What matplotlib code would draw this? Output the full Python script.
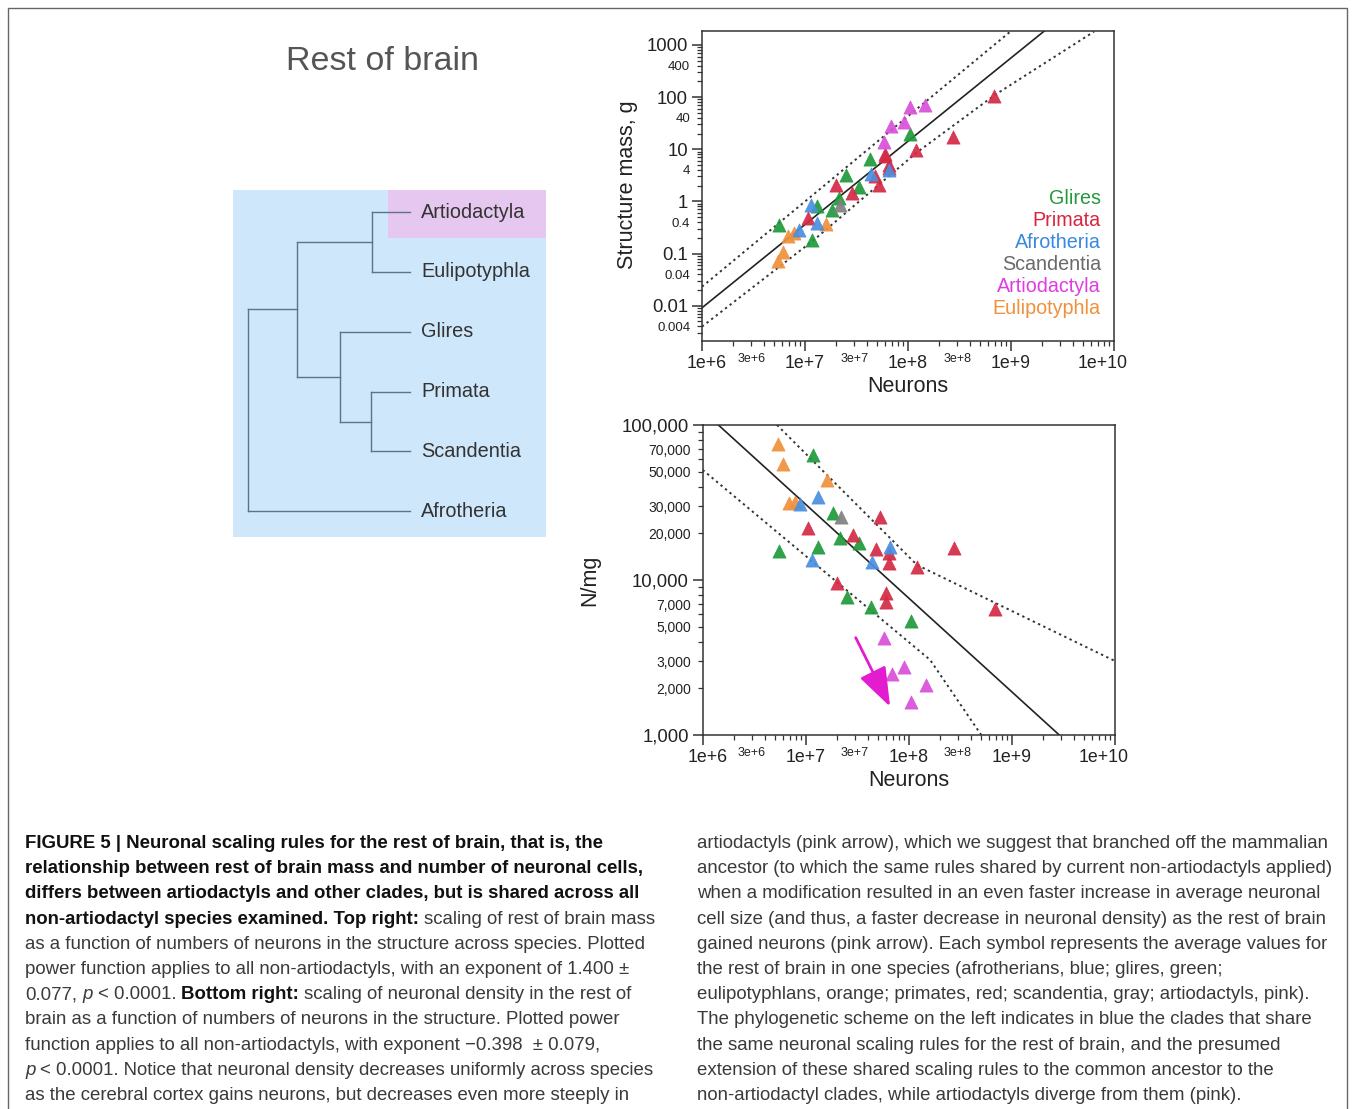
import numpy as np
import matplotlib
matplotlib.use("Agg")
import matplotlib.pyplot as plt
import matplotlib.transforms as mtransforms
from matplotlib import font_manager
from matplotlib.ticker import LogLocator, FixedLocator, FuncFormatter
from matplotlib.patches import Rectangle

W, H = 1355, 1109

# rest of brain: neurons and neuronal density (neurons/mg)
clades = ["Glires", "Primata", "Afrotheria", "Scandentia", "Artiodactyla", "Eulipotyphla"]
colors = {"Glires": "#1f9a3a", "Primata": "#d42a45", "Afrotheria": "#4a8fe0",
          "Scandentia": "#808080", "Artiodactyla": "#d94fd9", "Eulipotyphla": "#f0913c"}
legend_colors = {"Glires": "#239a3c", "Primata": "#d9253f", "Afrotheria": "#3a88e0",
                 "Scandentia": "#6a6a6a", "Artiodactyla": "#e03ce0", "Eulipotyphla": "#f0903a"}

glires_neurons = [1.17e7, 1.83e7, 2.15e7, 3.31e7, 1.30e7, 5.55e6, 2.52e7, 4.28e7, 1.045e8]
glires_density = [64000, 27200, 18800, 17400, 16250, 15450, 7760, 6700, 5430]
primata_neurons = [5.26e7, 1.06e7, 2.86e7, 4.82e7, 6.49e7, 6.49e7, 1.20e8, 2.75e8, 2.0e7, 5.98e7, 5.98e7, 6.78e8]
primata_density = [25350, 21700, 19400, 15800, 14860, 12940, 12190, 16030, 9530, 8200, 7240, 6470]
afrotheria_neurons = [1.32e7, 8.81e6, 6.58e7, 4.38e7, 1.14e7]
afrotheria_density = [34400, 30900, 16400, 13100, 13460]
scandentia_neurons = [2.19e7]
scandentia_density = [25350]
artiodactyla_neurons = [5.79e7, 9.06e7, 6.84e7, 1.47e8, 1.045e8]
artiodactyla_density = [4210, 2760, 2470, 2100, 1625]
eulipotyphla_neurons = [5.42e6, 6.07e6, 1.60e7, 6.81e6, 7.87e6]
eulipotyphla_density = [75300, 56000, 44200, 31400, 32000]

data = {
    "Glires": (glires_neurons, glires_density),
    "Primata": (primata_neurons, primata_density),
    "Afrotheria": (afrotheria_neurons, afrotheria_density),
    "Scandentia": (scandentia_neurons, scandentia_density),
    "Artiodactyla": (artiodactyla_neurons, artiodactyla_density),
    "Eulipotyphla": (eulipotyphla_neurons, eulipotyphla_density),
}
draw_order = ["Eulipotyphla", "Glires", "Primata", "Afrotheria", "Scandentia", "Artiodactyla"]

# fitted power function and bands as drawn (top: mass in g, bottom: N/mg)
top_fit_neurons = [1e6, 2.17e9]
top_fit_mass = [0.0091, 1940]
top_upper_neurons = [1e6, 1.03e9]
top_upper_mass = [0.0231, 1940]
top_lower_neurons = [1e6, 1.22e7, 1.21e8, 6.98e8, 6.40e9]
top_lower_mass = [0.00396, 0.182, 8.59, 110, 1800]

bot_fit_neurons = [1.42e6, 2.88e9]
bot_fit_density = [100000, 1000]
bot_upper_neurons = [5.26e6, 1.20e8, 1.0e10]
bot_upper_density = [100000, 12500, 3000]
bot_lower_neurons = [1e6, 1.61e8, 5.04e8]
bot_lower_density = [51300, 3050, 1000]

arrow_tail = (3.05e7, 4250)
arrow_head = (6.58e7, 1524)

# phylogeny (x = branch depth, leaves in drawing order)
leaves = ["Artiodactyla", "Eulipotyphla", "Glires", "Primata", "Scandentia", "Afrotheria"]
nodes = {
    "root": (0.0, ["inner", "Afrotheria"]),
    "inner": (4.9, ["AE", "GPS"]),
    "AE": (12.4, ["Artiodactyla", "Eulipotyphla"]),
    "GPS": (9.2, ["Glires", "PS"]),
    "PS": (12.3, ["Primata", "Scandentia"]),
}
leaf_tip = 16.2

names = {f.name for f in font_manager.fontManager.ttflist}
SANS = "Liberation Sans"
NARROW = "Liberation Sans Narrow" if "Liberation Sans Narrow" in names else "Liberation Sans"
plt.rcParams["font.family"] = [SANS, "DejaVu Sans"]

fig = plt.figure(figsize=(W / 100, H / 100), dpi=100)
fig.patch.set_facecolor("white")
renderer = fig.canvas.get_renderer()

# outer frame
fig.add_artist(Rectangle((8 / W, -0.01), (1347 - 8) / W, 1 - 8 / H + 0.01,
                         transform=fig.transFigure, fill=False, ec="#666666", lw=1.0))

fig.text(383 / W, 1 - 62 / H, "Rest of brain", ha="center", va="center",
         fontsize=24.5, color="#555555")

# ---------------- tree ----------------
axt = fig.add_axes([233 / W, 1 - 537 / H, 313 / W, 347 / H])
axt.set_facecolor("#cfe7fb")
axt.set_xlim(-1.5, 29.8)
axt.set_ylim(5.43, -0.37)
axt.set_xticks([])
axt.set_yticks([])
for s in axt.spines.values():
    s.set_visible(False)
axt.axhspan(-1, 0.43, xmin=0.495, xmax=1, color="#e6c7ef", lw=0)

leaf_y = {name: i for i, name in enumerate(leaves)}


def node_y(name):
    if name in leaf_y:
        return leaf_y[name]
    return np.mean([node_y(c) for c in nodes[name][1]])


tree_col = "#5a7585"
for name, (x, children) in nodes.items():
    ys = [node_y(c) for c in children]
    axt.plot([x, x], [min(ys), max(ys)], color=tree_col, lw=1.0)
    for c in children:
        cx = nodes[c][0] if c in nodes else leaf_tip
        axt.plot([x, cx], [node_y(c)] * 2, color=tree_col, lw=1.0)
for name in leaves:
    axt.text(leaf_tip + 1.1, leaf_y[name], name, va="center", ha="left",
             fontsize=14.3, color="#333333")


# ---------------- scatter panels ----------------
def mantissa(v):
    e = int(np.floor(np.log10(v) + 1e-9))
    return int(round(v / 10 ** e)), e


def style_axis(ax):
    for s in ax.spines.values():
        s.set_color("#333333")
        s.set_linewidth(1.1)
    ax.set_xscale("log")
    ax.set_yscale("log")
    ax.set_xlim(1e6, 1e10)
    ax.xaxis.set_major_locator(FixedLocator([1e6, 1e7, 1e8, 1e9, 1e10]))
    ax.xaxis.set_minor_locator(LogLocator(base=10, subs=np.arange(2, 10), numticks=50))
    ax.yaxis.set_major_locator(LogLocator(base=10, numticks=50))
    ax.yaxis.set_minor_locator(LogLocator(base=10, subs=np.arange(2, 10), numticks=50))
    ax.xaxis.set_major_formatter(FuncFormatter(lambda v, p: f"1e+{int(round(np.log10(v)))}"))

    def xminor(v, p):
        m, e = mantissa(v)
        return f"3e+{e}" if m == 3 and e < 9 else ""
    ax.xaxis.set_minor_formatter(FuncFormatter(xminor))
    ax.tick_params(which="both", direction="out", color="#333333", top=False, right=False)
    ax.tick_params(which="major", length=7, width=1.1, pad=3)
    ax.tick_params(which="minor", length=3.5, width=0.9, pad=5)
    ax.tick_params(axis="x", which="major", labelsize=12.8, labelcolor="#222222")
    ax.tick_params(axis="x", which="minor", labelsize=9, labelcolor="#222222")


ax1 = fig.add_axes([702 / W, 1 - 341 / H, 412 / W, 310 / H])
style_axis(ax1)
ax1.set_ylim(0.0021, 1850)
ax1.yaxis.set_major_formatter(FuncFormatter(lambda v, p: f"{round(v, 6):g}"))
ax1.yaxis.set_minor_formatter(FuncFormatter(
    lambda v, p: f"{round(v, 6):g}" if mantissa(v)[0] == 4 else ""))
ax1.tick_params(axis="y", which="major", labelsize=13.3, labelcolor="#222222")
ax1.tick_params(axis="y", which="minor", labelsize=9.5, labelcolor="#222222")

ax1.plot(top_fit_neurons, top_fit_mass, color="#222222", lw=1.2)
ax1.plot(top_upper_neurons, top_upper_mass, color="#333333", lw=1.4, ls=(0, (1.2, 1.8)))
ax1.plot(top_lower_neurons, top_lower_mass, color="#333333", lw=1.4, ls=(0, (1.2, 1.8)))
for c in draw_order:
    n, d = data[c]
    mass = np.array(n) / np.array(d) / 1000.0
    ax1.scatter(n, mass, marker="^", s=90, color=colors[c], edgecolors=colors[c],
                linewidths=0.5, alpha=0.92, zorder=3)
for i, c in enumerate(clades):
    ax1.text(0.968, 0.461 - i * 0.0715, c, transform=ax1.transAxes, ha="right",
             va="center", fontsize=14.2, color=legend_colors[c])
ax1.set_xlabel("Neurons", fontsize=15.5, color="#222222")
ax1.xaxis.set_label_coords(0.5, -0.148)
ax1.xaxis.label.set_va("center")
ax1.set_ylabel("Structure mass, g", fontsize=15.5, color="#222222")
ax1.yaxis.set_label_coords(-0.18, 0.503)
ax1.yaxis.label.set(va="center", ha="center")

ax2 = fig.add_axes([702.7 / W, 1 - 735 / H, 412.3 / W, 310 / H])
style_axis(ax2)
ax2.set_ylim(1000, 100000)
ax2.yaxis.set_major_formatter(FuncFormatter(lambda v, p: f"{int(round(v)):,}"))
ax2.yaxis.set_minor_formatter(FuncFormatter(
    lambda v, p: f"{int(round(v)):,}" if mantissa(v)[0] in (2, 3, 5, 7) else ""))
ax2.tick_params(axis="y", which="major", labelsize=13.3, labelcolor="#222222")
ax2.tick_params(axis="y", which="minor", labelsize=10, labelcolor="#222222")

ax2.plot(bot_fit_neurons, bot_fit_density, color="#222222", lw=1.2)
ax2.plot(bot_upper_neurons, bot_upper_density, color="#333333", lw=1.4, ls=(0, (1.2, 1.8)))
ax2.plot(bot_lower_neurons, bot_lower_density, color="#333333", lw=1.4, ls=(0, (1.2, 1.8)))
for c in draw_order:
    n, d = data[c]
    ax2.scatter(n, d, marker="^", s=90, color=colors[c], edgecolors=colors[c],
                linewidths=0.5, alpha=0.92, zorder=3)
ax2.annotate("", xy=arrow_head, xytext=arrow_tail,
             arrowprops=dict(arrowstyle="-|>,head_length=1.1,head_width=0.4",
                             color="#e41ccf", lw=2.0, mutation_scale=22,
                             shrinkA=0, shrinkB=0))
ax2.set_xlabel("Neurons", fontsize=15.5, color="#222222")
ax2.xaxis.set_label_coords(0.5, -0.148)
ax2.xaxis.label.set_va("center")
ax2.set_ylabel("N/mg", fontsize=15.5, color="#222222")
ax2.yaxis.set_label_coords(-0.274, 0.5)
ax2.yaxis.label.set(va="center", ha="center")

# end labels of the x axis sit a little inside the frame
fig.canvas.draw()
for ax in (ax1, ax2):
    ticks = ax.xaxis.get_major_ticks(5)
    for tick, dx in ((ticks[0], 5), (ticks[4], -11)):
        tick.label1.set_transform(tick.label1.get_transform()
                                  + mtransforms.ScaledTranslation(dx / 100, 0, fig.dpi_scale_trans))

# ---------------- caption ----------------
left_lines = [
    [("FIGURE 5 | Neuronal scaling rules for the rest of brain, that is, the", "b")],
    [("relationship between rest of brain mass and number of neuronal cells,", "b")],
    [("differs between artiodactyls and other clades, but is shared across all", "b")],
    [("non-artiodactyl species examined. Top right:", "b"), (" scaling of rest of brain mass", "r")],
    [("as a function of numbers of neurons in the structure across species. Plotted", "r")],
    [("power function applies to all non-artiodactyls, with an exponent of 1.400 \u00b1", "r")],
    [("0.077, ", "r"), ("p", "i"), (" < 0.0001. ", "r"), ("Bottom right:", "b"),
     (" scaling of neuronal density in the rest of", "r")],
    [("brain as a function of numbers of neurons in the structure. Plotted power", "r")],
    [("function applies to all non-artiodactyls, with exponent \u22120.398  \u00b1 0.079,", "r")],
    [("p", "i"), (" < 0.0001. Notice that neuronal density decreases uniformly across species", "r")],
    [("as the cerebral cortex gains neurons, but decreases even more steeply in", "r")],
]
right_lines = [
    "artiodactyls (pink arrow), which we suggest that branched off the mammalian",
    "ancestor (to which the same rules shared by current non-artiodactyls applied)",
    "when a modification resulted in an even faster increase in average neuronal",
    "cell size (and thus, a faster decrease in neuronal density) as the rest of brain",
    "gained neurons (pink arrow). Each symbol represents the average values for",
    "the rest of brain in one species (afrotherians, blue; glires, green;",
    "eulipotyphlans, orange; primates, red; scandentia, gray; artiodactyls, pink).",
    "The phylogenetic scheme on the left indicates in blue the clades that share",
    "the same neuronal scaling rules for the rest of brain, and the presumed",
    "extension of these shared scaling rules to the common ancestor to the",
    "non-artiodactyl clades, while artiodactyls diverge from them (pink).",
]

styles = {
    "r": dict(fontweight="normal", fontstyle="normal", color="#3a3a3a"),
    "b": dict(fontweight="bold", fontstyle="normal", color="#111111"),
    "i": dict(fontweight="normal", fontstyle="italic", color="#3a3a3a"),
}


def text_px(x, y, s, st, size):
    return fig.text(x / W, 1 - y / H, s, ha="left", va="baseline", family=[NARROW, "DejaVu Sans"],
                    fontsize=size, **styles[st])


# size the caption so that the reference line spans its measured width
probe = text_px(0, -100, left_lines[4][0][0], "r", 10)
cap_size = 10 * 626.0 / probe.get_window_extent(renderer).width
probe.remove()

space_w = {}
for st in styles:
    a = text_px(0, -100, "a a", st, cap_size)
    b = text_px(0, -100, "aa", st, cap_size)
    space_w[st] = a.get_window_extent(renderer).width - b.get_window_extent(renderer).width
    a.remove()
    b.remove()

line_h = 25.2
for i, runs in enumerate(left_lines):
    x = 25.0
    y = 848 + i * line_h
    for s, st in runs:
        x += (len(s) - len(s.lstrip(" "))) * space_w[st]
        core = s.strip(" ")
        t = text_px(x, y, core, st, cap_size)
        x += t.get_window_extent(renderer).width
        x += (len(s) - len(s.rstrip(" "))) * space_w[st]

for i, s in enumerate(right_lines):
    text_px(697, 848 + i * line_h, s, "r", cap_size)

fig.savefig("out.png", dpi=100)
